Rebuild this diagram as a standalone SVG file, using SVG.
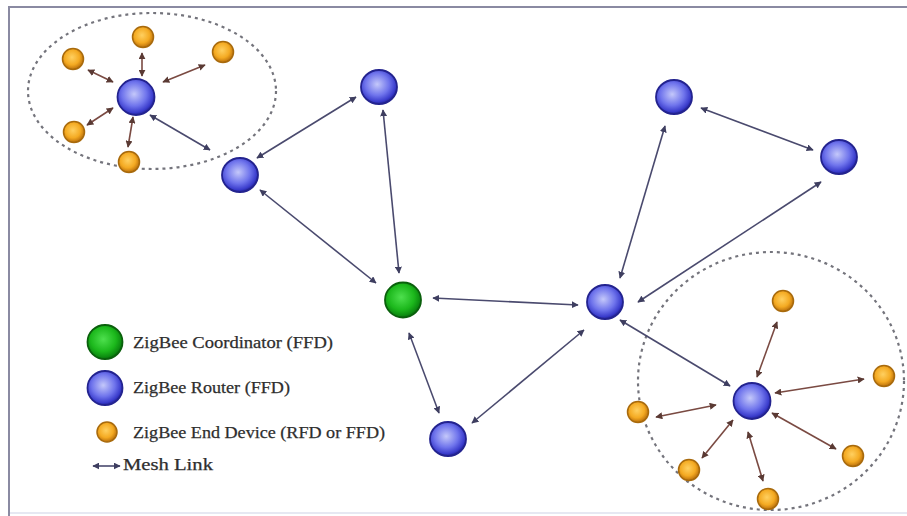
<svg xmlns="http://www.w3.org/2000/svg" width="907" height="516" viewBox="0 0 907 516">
<defs>
<radialGradient id="gBlue" cx="45%" cy="42%" r="60%">
<stop offset="0" stop-color="#c4c8fa"/>
<stop offset="0.55" stop-color="#6f74ec"/>
<stop offset="0.85" stop-color="#3a3ccc"/>
<stop offset="1" stop-color="#1c1c8a"/>
</radialGradient>
<radialGradient id="gGreen" cx="45%" cy="42%" r="60%">
<stop offset="0" stop-color="#4ee04e"/>
<stop offset="0.6" stop-color="#1cb81c"/>
<stop offset="0.88" stop-color="#0c8a10"/>
<stop offset="1" stop-color="#05570a"/>
</radialGradient>
<radialGradient id="gOrange" cx="45%" cy="42%" r="60%">
<stop offset="0" stop-color="#ffd060"/>
<stop offset="0.6" stop-color="#f4aa22"/>
<stop offset="0.88" stop-color="#c87d10"/>
<stop offset="1" stop-color="#8a5208"/>
</radialGradient>
<marker id="aMesh" viewBox="0 0 10 10" refX="9" refY="5" markerWidth="7" markerHeight="7" markerUnits="userSpaceOnUse" orient="auto-start-reverse">
<path d="M0,0 L10,5 L0,10 z" fill="#3e3e60"/>
</marker>
<marker id="aEnd" viewBox="0 0 10 10" refX="9" refY="5" markerWidth="7" markerHeight="7" markerUnits="userSpaceOnUse" orient="auto-start-reverse">
<path d="M0,0 L10,5 L0,10 z" fill="#5a3a34"/>
</marker>
</defs>
<style>
.mesh{stroke:#4a4a6e;stroke-width:1.6;fill:none;marker-start:url(#aMesh);marker-end:url(#aMesh)}
.ed{stroke:#7a4a42;stroke-width:1.6;fill:none;marker-start:url(#aEnd);marker-end:url(#aEnd)}
.cluster{fill:none;stroke:#74747c;stroke-width:2.2;stroke-dasharray:3 4}
.router{fill:url(#gBlue);stroke:#23238f;stroke-width:1.8}
.coord{fill:url(#gGreen);stroke:#0a600c;stroke-width:1.8}
.end{fill:url(#gOrange);stroke:#a86a0c;stroke-width:1.5}
.lbl{font-family:"Liberation Serif","Times New Roman",serif;font-size:17px;fill:#2e2e2e;stroke:#2e2e2e;stroke-width:0.25}
</style>
<rect x="0" y="0" width="907" height="516" fill="#ffffff"/>
<rect x="9" y="6" width="898" height="2" fill="#8a8aa2"/>
<rect x="8" y="6" width="2" height="510" fill="#8a8aa2"/>
<rect x="10" y="512" width="897" height="2" fill="#e6e8f2"/>

<g id="clusters">
<ellipse class="cluster" cx="152" cy="91" rx="124" ry="78"/>
<ellipse class="cluster" cx="771" cy="381" rx="133" ry="129"/>
</g>

<g id="connectors">
<line class="ed" x1="113" y1="82" x2="88" y2="70"/>
<line class="ed" x1="142" y1="76" x2="142" y2="53"/>
<line class="ed" x1="163" y1="82" x2="205" y2="65"/>
<line class="ed" x1="113" y1="108" x2="87" y2="125"/>
<line class="ed" x1="133" y1="117" x2="128" y2="147"/>
<line class="mesh" x1="150" y1="115" x2="210" y2="150"/>
<line class="mesh" x1="257" y1="158" x2="356" y2="97"/>
<line class="mesh" x1="383" y1="110" x2="399" y2="273"/>
<line class="mesh" x1="260" y1="190" x2="376" y2="283"/>
<line class="mesh" x1="433" y1="298" x2="578" y2="305"/>
<line class="mesh" x1="409" y1="333" x2="439" y2="413"/>
<line class="mesh" x1="472" y1="423" x2="584" y2="330"/>
<line class="mesh" x1="620" y1="278" x2="665" y2="126"/>
<line class="mesh" x1="638" y1="302" x2="821" y2="182"/>
<line class="mesh" x1="701" y1="108" x2="813" y2="150"/>
<line class="mesh" x1="620" y1="320" x2="730" y2="386"/>
<line class="ed" x1="757" y1="377" x2="777" y2="322"/>
<line class="ed" x1="775" y1="393" x2="864" y2="379"/>
<line class="ed" x1="716" y1="405" x2="656" y2="417"/>
<line class="ed" x1="733" y1="420" x2="702" y2="458"/>
<line class="ed" x1="772" y1="413" x2="836" y2="449"/>
<line class="ed" x1="748" y1="432" x2="763" y2="481"/>
</g>

<g id="ed1"><circle class="end" cx="73" cy="59" r="10.5"/></g>
<g id="ed2"><circle class="end" cx="143" cy="37" r="10.5"/></g>
<g id="ed3"><circle class="end" cx="223" cy="52" r="10.5"/></g>
<g id="ed4"><circle class="end" cx="74" cy="132" r="10.5"/></g>
<g id="ed5"><circle class="end" cx="129" cy="162" r="10.5"/></g>
<g id="r1"><ellipse class="router" cx="136" cy="97" rx="18.5" ry="18"/></g>
<g id="r2"><ellipse class="router" cx="240" cy="175" rx="18" ry="17"/></g>
<g id="r3"><ellipse class="router" cx="379" cy="87" rx="18" ry="17"/></g>
<g id="coordinator"><ellipse class="coord" cx="403" cy="300" rx="18" ry="17.5"/></g>
<g id="r4"><ellipse class="router" cx="448" cy="439" rx="18" ry="17"/></g>
<g id="r5"><ellipse class="router" cx="605" cy="302" rx="18" ry="17"/></g>
<g id="r6"><ellipse class="router" cx="674" cy="97" rx="18" ry="17"/></g>
<g id="r7"><ellipse class="router" cx="839" cy="157" rx="18" ry="17"/></g>
<g id="r8"><ellipse class="router" cx="752" cy="401" rx="18.5" ry="18"/></g>
<g id="ed6"><circle class="end" cx="783" cy="301" r="10.5"/></g>
<g id="ed7"><circle class="end" cx="884" cy="376" r="10.5"/></g>
<g id="ed8"><circle class="end" cx="638" cy="412" r="10.5"/></g>
<g id="ed9"><circle class="end" cx="689" cy="470" r="10.5"/></g>
<g id="ed10"><circle class="end" cx="853" cy="456" r="10.5"/></g>
<g id="ed11"><circle class="end" cx="768" cy="499" r="10.5"/></g>

<g id="legend">
<ellipse class="coord" cx="105" cy="342" rx="17.5" ry="17"/>
<text class="lbl" x="133" y="348" textLength="200" lengthAdjust="spacingAndGlyphs">ZigBee Coordinator (FFD)</text>
<ellipse class="router" cx="105" cy="388" rx="17.5" ry="17"/>
<text class="lbl" x="133" y="393" textLength="157" lengthAdjust="spacingAndGlyphs">ZigBee Router (FFD)</text>
<circle class="end" cx="107" cy="432" r="10"/>
<text class="lbl" x="133" y="438" textLength="252" lengthAdjust="spacingAndGlyphs">ZigBee End Device (RFD or FFD)</text>
<line class="mesh" x1="93" y1="466" x2="120" y2="466"/>
<text class="lbl" x="123" y="470" textLength="90" lengthAdjust="spacingAndGlyphs">Mesh Link</text>
</g>
</svg>
